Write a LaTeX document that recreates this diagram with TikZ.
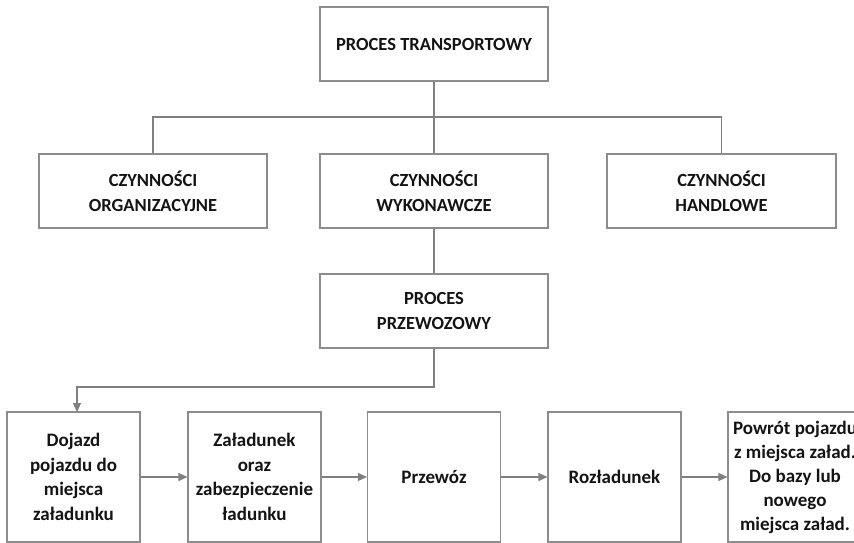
\documentclass[tikz,border=0pt]{standalone}
\usepackage{fontspec}
\setmainfont{Carlito}
\usetikzlibrary{arrows.meta}
\definecolor{edge}{RGB}{140,140,140}
\definecolor{conn}{RGB}{128,128,128}
\definecolor{ink}{RGB}{20,20,20}
\tikzset{
  box/.style={draw=edge, line width=1.1pt, fill=white, inner sep=0pt, align=center,
    text=ink, font=\fontsize{18.5}{25}\selectfont\bfseries},
  flowbox/.style={box, font=\fontsize{19}{24.5}\selectfont\bfseries},
  conline/.style={draw=conn, line width=1.1pt},
  conarrow/.style={conline, -{Triangle[length=9pt,width=8pt]}, color=conn}
}
\begin{document}
\begin{tikzpicture}[x=1pt,y=-1pt]
\useasboundingbox (0,0) rectangle (854,543);
\clip (0,0) rectangle (854,543);
% top
\node[box, minimum width=228pt, minimum height=74pt] (top) at (434,44) {PROCES TRANSPORTOWY};
% second row
\node[box, minimum width=228pt, minimum height=74pt] (org) at (153,191) {CZYNNOŚCI\\ORGANIZACYJNE};
\node[box, minimum width=228pt, minimum height=74pt] (wyk) at (434,191) {CZYNNOŚCI\\WYKONAWCZE};
\node[box, minimum width=229pt, minimum height=74pt] (han) at (721.5,191) {CZYNNOŚCI\\HANDLOWE};
% third
\node[box, minimum width=228pt, minimum height=74pt] (prz) at (434,311) {PROCES\\PRZEWOZOWY};
% bottom row
\node[flowbox, minimum width=133pt, minimum height=130pt] (b1) at (73.5,477) {Dojazd\\pojazdu do\\miejsca\\załadunku};
\node[flowbox, minimum width=133pt, minimum height=130pt] (b2) at (254.5,477) {Załadunek\\oraz\\zabezpieczenie\\ładunku};
\node[flowbox, minimum width=133pt, minimum height=130pt] (b3) at (434,477) {Przewóz};
\node[flowbox, minimum width=133pt, minimum height=130pt] (b4) at (614.5,477) {Rozładunek};
\node[flowbox, minimum width=134pt, minimum height=130pt, font=\fontsize{19}{24}\selectfont\bfseries] (b5) at (795,477) {Powrót pojazdu\\z miejsca załad.\\Do bazy lub\\nowego\\miejsca załad.};
% connectors
\coordinate (hm) at (434,117);
\draw[conline] (top.south) -- (wyk.north);
\draw[conline] (org.north) |- (hm) -| (han.north);
\draw[conline] (wyk.south) -- (prz.north);
\coordinate (turn) at (77,387);
\coordinate (b1in) at (77,412);
\draw[conarrow] (prz.south) |- (turn) -- (b1in);
\draw[conarrow] (b1.east) -- (b2.west);
\draw[conarrow] (b2.east) -- (b3.west);
\draw[conarrow] (b3.east) -- (b4.west);
\draw[conarrow] (b4.east) -- (b5.west);
\end{tikzpicture}
\end{document}
